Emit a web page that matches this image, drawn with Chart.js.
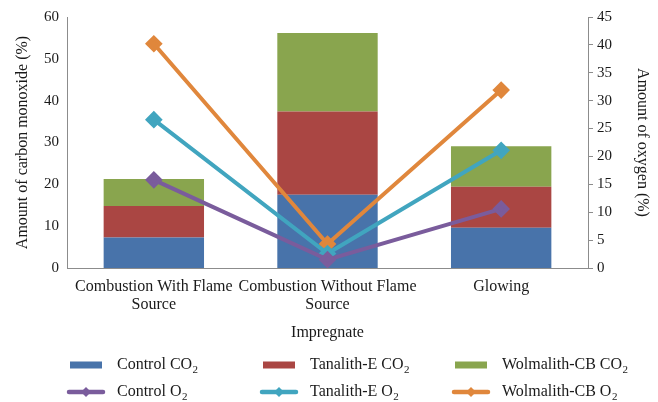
<!DOCTYPE html>
<html>
<head>
<meta charset="utf-8">
<script src="https://cdn.jsdelivr.net/npm/chart.js@4"></script>
<style>
  html, body { margin: 0; padding: 0; background: #fff; }
  #wrap { width: 658px; height: 402px; position: relative; }
</style>
</head>
<body>
<div id="wrap"><canvas id="c" width="658" height="402"></canvas></div>
<script>
// Test conditions along the x axis
const categories = [
  ["Combustion With Flame", "Source"],
  ["Combustion Without Flame", "Source"],
  ["Glowing"]
];

// Carbon monoxide, stacked bars (left axis, %)
const controlCO2   = [7.3, 17.5, 9.6];
const tanalithCO2  = [7.5, 19.9, 9.8];
const wolmalithCO2 = [6.5, 18.8, 9.7];

// Oxygen, lines (right axis, %)
const controlO2   = [15.8, 1.5, 10.6];
const tanalithO2  = [26.6, 2.6, 21.1];
const wolmalithO2 = [40.2, 4.3, 31.9];

// Legend entries: [name, gas, kind]
const legendRows = [
  [["Control", "CO", "bar"], ["Tanalith-E", "CO", "bar"], ["Wolmalith-CB", "CO", "bar"]],
  [["Control", "O", "line"], ["Tanalith-E", "O", "line"], ["Wolmalith-CB", "O", "line"]]
];

const C = {
  blue: '#4873AA', red: '#AA4643', green: '#89A54E',
  purple: '#7A5C9C', cyan: '#41A5BF', orange: '#E0873C',
  axis: '#8C8C8C', text: '#1a1a1a'
};
const FONT = 'Liberation Serif, Times New Roman, serif';

const barSets = [
  { label: 'Control CO₂', data: controlCO2, color: C.blue },
  { label: 'Tanalith-E CO₂', data: tanalithCO2, color: C.red },
  { label: 'Wolmalith-CB CO₂', data: wolmalithCO2, color: C.green }
];
const lineSets = [
  { label: 'Control O₂', data: controlO2, color: C.purple },
  { label: 'Tanalith-E O₂', data: tanalithO2, color: C.cyan },
  { label: 'Wolmalith-CB O₂', data: wolmalithO2, color: C.orange }
];

const datasets = [
  ...lineSets.map(s => ({
    type: 'line', label: s.label, data: s.data, yAxisID: 'y2',
    borderColor: s.color, backgroundColor: s.color, borderWidth: 4,
    pointStyle: 'rectRot', pointRadius: 6, pointHoverRadius: 6,
    tension: 0, order: 0
  })),
  ...barSets.map(s => ({
    type: 'bar', label: s.label, data: s.data, yAxisID: 'y',
    backgroundColor: s.color, borderWidth: 0, stack: 'co',
    categoryPercentage: 1, barPercentage: 0.578, order: 1
  }))
];

// Three-column legend drawn below the axis title
const legendPlugin = {
  id: 'gridLegend',
  afterDraw(chart) {
    const ctx = chart.ctx;
    const colColors = [[C.blue, C.red, C.green], [C.purple, C.cyan, C.orange]];
    const swatchX = [70, 263, 455];
    const textX = [117, 310, 502];
    const rowY = [365, 392];
    ctx.save();
    legendRows.forEach((row, r) => {
      row.forEach((entry, i) => {
        const [name, gas, kind] = entry;
        const color = colColors[r][i];
        const y = rowY[r];
        if (kind === 'bar') {
          ctx.fillStyle = color;
          ctx.fillRect(swatchX[i], y - 3.5, 32, 7);
        } else {
          ctx.strokeStyle = color;
          ctx.lineWidth = 4.5;
          ctx.lineCap = 'round';
          ctx.beginPath();
          ctx.moveTo(swatchX[i] - 1, y);
          ctx.lineTo(swatchX[i] + 33, y);
          ctx.stroke();
          ctx.fillStyle = color;
          const cx = swatchX[i] + 16;
          ctx.beginPath();
          ctx.moveTo(cx, y - 5); ctx.lineTo(cx + 5, y); ctx.lineTo(cx, y + 5); ctx.lineTo(cx - 5, y);
          ctx.closePath(); ctx.fill();
        }
        ctx.fillStyle = C.text;
        ctx.textBaseline = 'middle';
        ctx.textAlign = 'left';
        ctx.font = '16px ' + FONT;
        const main = name + ' ' + gas;
        ctx.fillText(main, textX[i], y);
        const w = ctx.measureText(main).width;
        ctx.font = '11px ' + FONT;
        ctx.fillText('2', textX[i] + w + 0.5, y + 5);
      });
    });
    ctx.restore();
  }
};

Chart.defaults.font.family = FONT;
Chart.defaults.color = C.text;

new Chart(document.getElementById('c'), {
  data: { labels: categories, datasets },
  options: {
    responsive: false,
    animation: false,
    layout: { padding: { top: 16, bottom: 59, left: 0, right: 0 } },
    plugins: { legend: { display: false }, tooltip: { enabled: false } },
    scales: {
      x: {
        stacked: true,
        grid: { display: false, drawTicks: false },
        border: { display: true, color: C.axis, width: 1 },
        ticks: { font: { size: 16, lineHeight: 1.1 }, color: C.text, padding: 10, maxRotation: 0, autoSkip: false },
        title: { display: true, text: 'Impregnate', font: { size: 16 }, color: C.text, padding: { top: 0, bottom: 1 } },
        afterFit(s) { s.height = 75; }
      },
      y: {
        position: 'left', stacked: true, min: 0, max: 60,
        ticks: { stepSize: 10, font: { size: 15 }, color: C.text, padding: 8 },
        grid: { display: false, drawTicks: false },
        border: { display: true, color: C.axis, width: 1 },
        title: { display: true, text: 'Amount of carbon monoxide (%)', font: { size: 16 }, color: C.text, padding: { top: 13, bottom: 0 } },
        afterFit(s) { s.width = 67; }
      },
      y2: {
        position: 'right', min: 0, max: 45,
        ticks: { stepSize: 5, font: { size: 15 }, color: C.text, padding: 4 },
        grid: { drawOnChartArea: false, drawTicks: true, tickLength: 5, color: C.axis },
        border: { display: true, color: C.axis, width: 1 },
        title: { display: true, text: 'Amount of oxygen (%)', font: { size: 16 }, color: C.text, padding: { top: 6, bottom: 0 } },
        afterFit(s) { s.width = 70; }
      }
    }
  },
  plugins: [legendPlugin]
});
</script>
</body>
</html>
